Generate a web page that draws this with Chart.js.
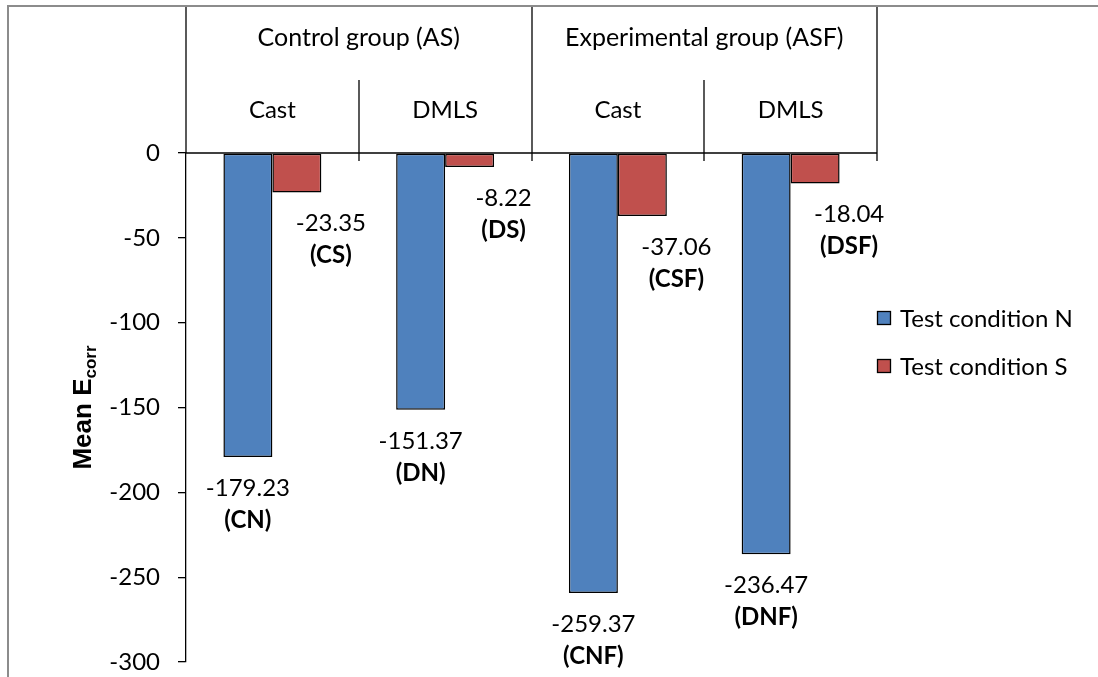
<!DOCTYPE html>
<html>
<head>
<meta charset="utf-8">
<script src="https://cdn.jsdelivr.net/npm/chart.js@4"></script>
<style>
  html, body { margin: 0; padding: 0; background: #fff; }
  #wrap { width: 1098px; height: 677px; position: relative; }
</style>
</head>
<body>
<div id="wrap"><canvas id="ecorrChart" width="1098" height="677"></canvas></div>
<script>
// chart data
const categories = ['Cast', 'DMLS', 'Cast', 'DMLS'];
const groups = ['Control group (AS)', 'Experimental group (ASF)'];
const seriesNames = ['Test condition N', 'Test condition S'];
const valuesN = [-179.23, -151.37, -259.37, -236.47];
const valuesS = [-23.35, -8.22, -37.06, -18.04];
const codesN = ['(CN)', '(DN)', '(CNF)', '(DNF)'];
const codesS = ['(CS)', '(DS)', '(CSF)', '(DSF)'];
const yTicks = [0, -50, -100, -150, -200, -250, -300];

const FONT = 'Lato, "Open Sans", sans-serif';

// header, dividers, frame, legend, title and data labels
const excelDecor = {
  id: 'excelDecor',
  afterDatasetsDraw(chart) {
    const ctx = chart.ctx;
    const area = chart.chartArea;
    const xs = chart.scales.x;
    const step = (area.right - area.left) / categories.length;

    ctx.save();

    // outer frame (gray)
    ctx.strokeStyle = '#8c8c8c';
    ctx.lineWidth = 2;
    ctx.beginPath();
    ctx.moveTo(8, 700);
    ctx.lineTo(8, 6);
    ctx.lineTo(1100, 6);
    ctx.stroke();

    ctx.strokeStyle = '#000';
    ctx.lineWidth = 1.3;

    // x axis line at 0
    ctx.beginPath();
    ctx.moveTo(area.left, area.top);
    ctx.lineTo(area.right, area.top);
    ctx.stroke();

    // y axis line up to the frame
    ctx.beginPath();
    ctx.moveTo(area.left, 7);
    ctx.lineTo(area.left, area.top);
    ctx.stroke();

    // category dividers
    for (let i = 1; i <= categories.length; i++) {
      const x = Math.round(area.left + step * i);
      const top = (i % 2 === 0) ? 7 : 80;
      ctx.beginPath();
      ctx.moveTo(x, top);
      ctx.lineTo(x, area.top + 8);
      ctx.stroke();
    }

    // header labels
    ctx.fillStyle = '#000';
    ctx.font = '24px ' + FONT;
    ctx.textAlign = 'center';
    ctx.textBaseline = 'middle';
    for (let i = 0; i < categories.length; i++) {
      ctx.fillText(categories[i], xs.getPixelForValue(i), 110);
    }
    ctx.font = '25px ' + FONT;
    for (let g = 0; g < groups.length; g++) {
      const cx = area.left + step * (2 * g + 1);
      ctx.fillText(groups[g], cx, 38);
    }

    // data labels under bar ends
    chart.data.datasets.forEach((ds, di) => {
      const meta = chart.getDatasetMeta(di);
      meta.data.forEach((bar, i) => {
        const x = bar.x + ds.labelShift;
        ctx.font = '24px ' + FONT;
        ctx.fillText(ds.data[i].toFixed(2), x, bar.y + 31);
        ctx.font = 'bold 24px ' + FONT;
        ctx.fillText(ds.codes[i], x, bar.y + 63);
      });
    });

    // legend
    ctx.textAlign = 'left';
    ctx.font = '24px ' + FONT;
    chart.data.datasets.forEach((ds, di) => {
      const cy = 318 + di * 48;
      ctx.fillStyle = ds.backgroundColor;
      ctx.fillRect(877, cy - 7, 14, 14);
      ctx.strokeStyle = '#000';
      ctx.lineWidth = 1.3;
      ctx.strokeRect(877.5, cy - 6.5, 13, 13);
      ctx.fillStyle = '#000';
      ctx.fillText(ds.label, 900, cy + 1);
    });

    // y axis title with subscript
    ctx.translate(82, (area.top + area.bottom) / 2);
    ctx.rotate(-Math.PI / 2);
    ctx.font = 'bold 26px "Liberation Sans", Arial, sans-serif';
    const main = 'Mean E';
    const mainW = ctx.measureText(main).width;
    ctx.font = 'bold 17px "Liberation Sans", Arial, sans-serif';
    const subW = ctx.measureText('corr').width;
    const startX = -(mainW + subW) / 2;
    ctx.textBaseline = 'alphabetic';
    ctx.font = 'bold 26px "Liberation Sans", Arial, sans-serif';
    ctx.fillText(main, startX, 9);
    ctx.font = 'bold 17px "Liberation Sans", Arial, sans-serif';
    ctx.fillText('corr', startX + mainW, 14);

    ctx.restore();
  }
};

const ctx = document.getElementById('ecorrChart').getContext('2d');
const myChart = new Chart(ctx, {
  type: 'bar',
  data: {
    labels: categories,
    datasets: [
      {
        label: seriesNames[0],
        data: valuesN,
        codes: codesN,
        labelShift: 0,
        backgroundColor: '#4F81BD',
        borderColor: '#000',
        borderWidth: 1.5,
        borderSkipped: false
      },
      {
        label: seriesNames[1],
        data: valuesS,
        codes: codesS,
        labelShift: 34,
        backgroundColor: '#C0504D',
        borderColor: '#000',
        borderWidth: 1.5,
        borderSkipped: false
      }
    ]
  },
  options: {
    responsive: false,
    animation: false,
    layout: {
      padding: { top: 153, bottom: 15, left: 0, right: 221 }
    },
    categoryPercentage: 0.567,
    barPercentage: 1,
    plugins: {
      legend: { display: false },
      tooltip: { enabled: false }
    },
    scales: {
      x: { display: false },
      y: {
        min: -300,
        max: 0,
        afterBuildTicks: function(scale) {
          scale.ticks = yTicks.slice().reverse().map(v => ({ value: v }));
        },
        afterFit: function(scale) {
          scale.width = 186;
          scale.paddingTop = 0;
          scale.paddingBottom = 0;
        },
        ticks: {
          color: '#000',
          padding: 18,
          font: { family: 'Lato', size: 24 }
        },
        grid: {
          drawOnChartArea: false,
          tickLength: 8,
          color: '#000',
          lineWidth: 1.3
        },
        border: { color: '#000', width: 1.3 }
      }
    }
  },
  plugins: [excelDecor]
});
</script>
</body>
</html>
